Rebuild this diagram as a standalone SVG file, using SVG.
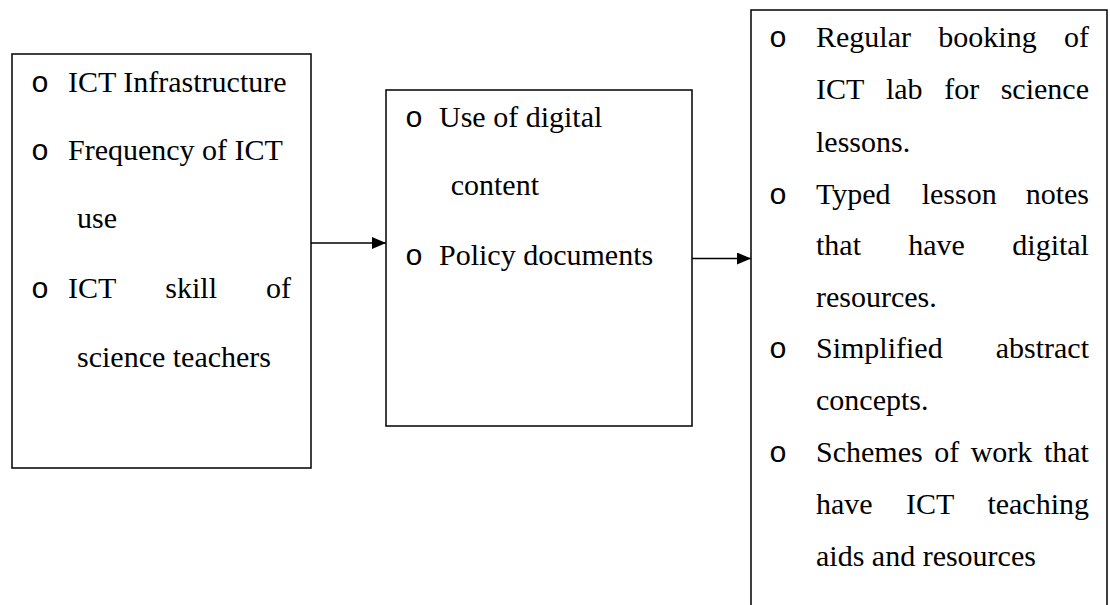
<svg xmlns="http://www.w3.org/2000/svg" width="1110" height="605" viewBox="0 0 1110 605">
<style>
.box{fill:#fff;stroke:#000;stroke-width:1.5}
.t{font-family:"Liberation Serif","Times New Roman",serif;font-size:30px;fill:#000}
.b{font-family:"Liberation Mono","Courier New",monospace;font-size:30px;fill:#000;text-anchor:middle}
.conn{stroke:#000;stroke-width:1.4;fill:none}
</style>
<defs>
<marker id="ah" markerUnits="userSpaceOnUse" markerWidth="14" markerHeight="12" refX="14" refY="6" orient="auto">
<path d="M0,0 L14,6 L0,12 z" fill="#000"/>
</marker>
</defs>
<rect width="1110" height="605" fill="#fff"/>
<g id="node-left">
<rect class="box" x="12" y="54" width="299" height="414"/>
<text class="b" x="40" y="91.7">o</text>
<text class="t" x="68" y="91.7">ICT Infrastructure</text>
<text class="b" x="40" y="160">o</text>
<text class="t" x="68" y="160">Frequency of ICT</text>
<text class="t" x="77" y="228.3">use</text>
<text class="b" x="40" y="298">o</text>
<text class="t" y="298"><tspan x="68">ICT</tspan><tspan x="165.3">skill</tspan><tspan x="266">of</tspan></text>
<text class="t" x="77" y="366.7">science teachers</text>
</g>
<g id="node-middle">
<rect class="box" x="386" y="90" width="306" height="336"/>
<text class="b" x="414" y="126.7">o</text>
<text class="t" x="439" y="126.7">Use of digital</text>
<text class="t" x="450.7" y="195">content</text>
<text class="b" x="414" y="265">o</text>
<text class="t" x="439" y="265">Policy documents</text>
</g>
<g id="node-right">
<path class="box" d="M751,612 V10 H1107 V612"/>
<text class="b" x="778" y="47">o</text>
<text class="t" y="47"><tspan x="816">Regular</tspan><tspan x="938.3">booking</tspan><tspan x="1064">of</tspan></text>
<text class="t" y="99"><tspan x="816">ICT</tspan><tspan x="885.9">lab</tspan><tspan x="944.2">for</tspan><tspan x="1000.7">science</tspan></text>
<text class="t" x="816" y="151.5">lessons.</text>
<text class="b" x="778" y="203.5">o</text>
<text class="t" y="203.5"><tspan x="816">Typed</tspan><tspan x="921.7">lesson</tspan><tspan x="1025.7">notes</tspan></text>
<text class="t" y="255"><tspan x="816">that</tspan><tspan x="908.3">have</tspan><tspan x="1012.3">digital</tspan></text>
<text class="t" x="816" y="307">resources.</text>
<text class="b" x="778" y="358">o</text>
<text class="t" y="358"><tspan x="816">Simplified</tspan><tspan x="995.7">abstract</tspan></text>
<text class="t" x="816" y="410">concepts.</text>
<text class="b" x="778" y="462">o</text>
<text class="t" y="462"><tspan x="816">Schemes</tspan><tspan x="934.2">of</tspan><tspan x="970.7">work</tspan><tspan x="1043.9">that</tspan></text>
<text class="t" y="514"><tspan x="816">have</tspan><tspan x="905.9">ICT</tspan><tspan x="987.4">teaching</tspan></text>
<text class="t" x="816" y="566">aids and resources</text>
</g>
<g id="connectors">
<line class="conn" x1="311" y1="243" x2="386" y2="243" marker-end="url(#ah)"/>
<line class="conn" x1="692" y1="258.5" x2="751" y2="258.5" marker-end="url(#ah)"/>
</g>
</svg>
